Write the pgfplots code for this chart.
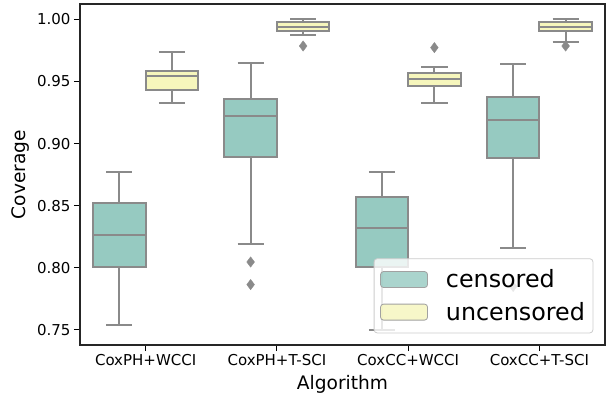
\documentclass[border=0pt]{standalone}
\usepackage{fontspec}
\setmainfont{DejaVu Sans}
\usepackage{pgfplots}
\pgfplotsset{compat=1.18}
\usepgfplotslibrary{statistics}
\definecolor{cens}{HTML}{96CAC1}
\definecolor{unc}{HTML}{F6F6BC}
\definecolor{edgegray}{HTML}{8A8A8A}
\definecolor{leggray}{HTML}{CCCCCC}

\pgfplotsset{
  bx/.style={
    boxplot/box extend=0.4,
    boxplot/whisker extend=0.2,
    boxplot/every box/.style={draw=edgegray, line width=2pt, fill=#1},
    boxplot/every whisker/.style={draw=edgegray, line width=2pt},
    boxplot/every median/.style={draw=edgegray, line width=2pt},
    draw=edgegray, line width=2pt, solid,
    mark=diamond*, mark size=5.2pt,
    mark options={fill=edgegray, draw=edgegray, line width=0.3pt, solid},
    forget plot,
  },
}

\begin{document}
\begin{tikzpicture}
\begin{axis}[
  boxplot/draw direction=y,
  scale only axis,
  width=525pt, height=341pt,
  xmin=-0.5, xmax=3.5,
  ymin=0.7379, ymax=1.0123,
  xtick={0,1,2,3},
  xticklabels={CoxPH+WCCI, CoxPH+T-SCI, CoxCC+WCCI, CoxCC+T-SCI},
  ytick={0.75,0.80,0.85,0.90,0.95,1.00},
  yticklabel style={/pgf/number format/.cd, fixed, fixed zerofill, precision=2},
  /pgf/number format/assume math mode=true,
  tick label style={font=\fontsize{15}{18}\selectfont},
  tick align=outside,
  tick pos=left,
  major tick length=6pt,
  every tick/.style={black, line width=1pt},
  axis line style={line width=1.1pt, black!85},
  xlabel={Algorithm},
  ylabel={Coverage},
  every axis x label/.style={at={(axis description cs:0.5,0)}, anchor=base, yshift=-44pt, font=\fontsize{18.6}{22}\selectfont},
  every axis y label/.style={at={(axis description cs:0,0.5)}, anchor=center, xshift=-59pt, rotate=90, font=\fontsize{18.6}{22}\selectfont},
  legend cell align=left,
  legend style={
    at={(0.9777,0.0343)}, anchor=south east,
    font=\fontsize{23.8}{28}\selectfont,
    fill=white, fill opacity=0.8, text opacity=1, draw opacity=1,
    draw=leggray, line width=0.8pt, rounded corners=3pt,
    inner xsep=6pt, inner ysep=9pt, row sep=9pt,
    /tikz/every odd column/.append style={column sep=16pt},
  },
]
% censored
\addplot[bx=cens, boxplot prepared={draw position=-0.2,
  lower whisker=0.7540, lower quartile=0.8005, median=0.8267, upper quartile=0.8525, upper whisker=0.8770}]
  coordinates {};
\addplot[bx=cens, boxplot prepared={draw position=0.8,
  lower whisker=0.8190, lower quartile=0.8890, median=0.9224, upper quartile=0.9361, upper whisker=0.9646}]
  coordinates {(1,0.8047) (1,0.7865)};
\addplot[bx=cens, boxplot prepared={draw position=1.8,
  lower whisker=0.7500, lower quartile=0.8005, median=0.8319, upper quartile=0.8573, upper whisker=0.8770}]
  coordinates {};
\addplot[bx=cens, boxplot prepared={draw position=2.8,
  lower whisker=0.8163, lower quartile=0.8882, median=0.9187, upper quartile=0.9377, upper whisker=0.9643}]
  coordinates {(3,0.7850)};
% uncensored
\addplot[bx=unc, boxplot prepared={draw position=0.2,
  lower whisker=0.9324, lower quartile=0.9434, median=0.9541, upper quartile=0.9587, upper whisker=0.9734}]
  coordinates {};
\addplot[bx=unc, boxplot prepared={draw position=1.2,
  lower whisker=0.9871, lower quartile=0.9908, median=0.9936, upper quartile=0.9978, upper whisker=1.0000}]
  coordinates {(1,0.9785)};
\addplot[bx=unc, boxplot prepared={draw position=2.2,
  lower whisker=0.9324, lower quartile=0.9463, median=0.9517, upper quartile=0.9566, upper whisker=0.9619}]
  coordinates {(2,0.9772)};
\addplot[bx=unc, boxplot prepared={draw position=3.2,
  lower whisker=0.9817, lower quartile=0.9908, median=0.9936, upper quartile=0.9978, upper whisker=1.0000}]
  coordinates {(3,0.9785)};

\addlegendimage{legend image code/.code={\draw[fill=cens, draw=edgegray!80, line width=0.8pt] (0pt,-8pt) rectangle (47pt,8pt);}}
\addlegendentry{censored}
\addlegendimage{legend image code/.code={\draw[fill=unc, draw=edgegray!80, line width=0.8pt] (0pt,-8pt) rectangle (47pt,8pt);}}
\addlegendentry{uncensored}
\end{axis}
\path (current axis.south west) ++(-80pt,-54pt) coordinate (bbA);
\path (current axis.north east) ++(5pt,4pt) coordinate (bbB);
\pgfresetboundingbox
\path (bbA) rectangle (bbB);
\end{tikzpicture}
\end{document}
